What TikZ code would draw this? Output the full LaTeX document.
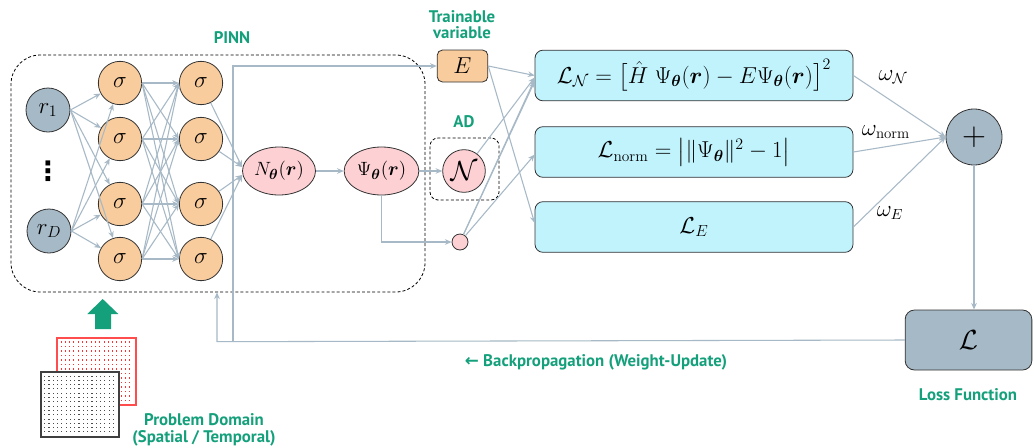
\documentclass[tikz,border=0pt]{standalone}
\usepackage{amsmath}
\usepackage{bm}
\usepackage{fontspec}
\usetikzlibrary{shapes.geometric,arrows.meta,calc}
\newfontfamily\labelfont{PT Sans}
\newfontfamily\arrowfont{DejaVu Sans}

\definecolor{linec}{HTML}{A7B9C6}
\definecolor{slate}{HTML}{A6B9C7}
\definecolor{peach}{HTML}{F9CC9D}
\definecolor{rose}{HTML}{FDD0D4}
\definecolor{aqua}{HTML}{C1F3FD}
\definecolor{teal}{HTML}{15A07C}
\definecolor{edge}{HTML}{333333}

\tikzset{
  conn/.style={draw=linec, line width=0.8pt, -{Stealth[length=5pt,width=4.2pt]}},
  innode/.style={circle, draw=edge, line width=0.6pt, fill=slate, minimum size=33pt, inner sep=0pt, font=\fontsize{17}{17}\selectfont},
  signode/.style={circle, draw=edge, line width=0.6pt, fill=peach, minimum size=32.5pt, inner sep=0pt, font=\fontsize{18}{18}\selectfont},
  netnode/.style={ellipse, draw=edge, line width=0.6pt, fill=rose, inner sep=0pt, font=\fontsize{15}{15}\selectfont},
  lossbox/.style={rectangle, rounded corners=6pt, draw=edge, line width=0.6pt, fill=aqua, minimum width=238.5pt, minimum height=38pt, font=\fontsize{16.5}{18}\selectfont},
  greenlabel/.style={text=teal, font=\labelfont\bfseries\fontsize{12.6}{15}\selectfont, align=center},
  wlabel/.style={font=\fontsize{16}{16}\selectfont}
}

\begin{document}
\begin{tikzpicture}[x=0.75pt, y=-0.75pt]
\useasboundingbox[fill=white] (0,0) rectangle (1034,447);

% PINN frame
\node[draw=black, dashed, dash pattern=on 2.2pt off 1.6pt, line width=0.6pt, rounded corners=22pt,
      minimum width=310.5pt, minimum height=177.75pt] (pinn) at (218,173.5) {};
\node[greenlabel] (pinnlab) at (232,38) {PINN};

% input layer
\node[innode] (r1) at (48,110) {$r_1$};
\node[innode] (rD) at (49,231) {$r_D$};
\node[font=\arrowfont\bfseries\fontsize{20}{20}\selectfont, inner sep=0pt] (vd) at (48,171) {⋮};

% hidden layers
\foreach \i/\y in {1/83,2/139,3/204,4/259}{
  \node[signode] (a\i) at (120,\y) {$\sigma$};
  \node[signode] (b\i) at (201,\y) {$\sigma$};
}

% network output and wave function
\node[netnode, minimum width=54.75pt, minimum height=36pt] (N) at (279,171) {$N_{\bm{\theta}}(\bm{r})$};
\node[netnode, minimum width=56pt, minimum height=36pt] (psi) at (381.5,171) {$\Psi_{\bm{\theta}}(\bm{r})$};

% automatic differentiation
\node[draw=black, dashed, dash pattern=on 2.2pt off 1.6pt, line width=0.6pt, rounded corners=6pt,
      minimum width=51.75pt, minimum height=46.5pt] (ad) at (464.5,169) {};
\node[greenlabel] (adlab) at (464,122) {AD};
\node[circle, draw=edge, line width=0.6pt, fill=rose, minimum size=32pt, inner sep=0pt,
      font=\fontsize{21}{21}\selectfont] (calN) at (464,171) {$\mathcal{N}$};
\node[circle, draw=edge, line width=0.6pt, fill=rose, minimum size=12pt, inner sep=0pt] (dot) at (460,242) {};

% trainable energy
\node[rectangle, rounded corners=4pt, draw=edge, line width=0.6pt, fill=peach, minimum width=38pt,
      minimum height=24pt, font=\fontsize{16}{16}\selectfont] (E) at (462.5,66) {$E$};
\node[greenlabel] (trlab) at (462,25) {Trainable\\[-3pt]variable};

% loss terms
\node[lossbox] (L1) at (694,75.5) {$\mathcal{L}_{\mathcal{N}}=\bigl[\hat{H}\;\Psi_{\bm{\theta}}(\bm{r})-E\Psi_{\bm{\theta}}(\bm{r})\bigr]^2$};
\node[lossbox] (L2) at (694,152) {$\mathcal{L}_{\mathrm{norm}}=\bigl|\|\Psi_{\bm{\theta}}\|^2-1\bigr|$};
\node[lossbox] (L3) at (694,227) {$\mathcal{L}_{E}$};

% weighted sum and total loss
\node[circle, draw=edge, line width=0.6pt, fill=slate, minimum size=42pt, inner sep=0pt,
      font=\fontsize{26}{26}\selectfont] (plus) at (974,137) {$+$};
\node[rectangle, rounded corners=7pt, draw=edge, line width=0.6pt, fill=slate, minimum width=95pt,
      minimum height=45pt, font=\fontsize{21}{21}\selectfont] (Lbox) at (968.5,340) {$\mathcal{L}$};
\node[greenlabel] (lflab) at (968,395) {Loss Function};

\node[wlabel] (w1) at (893,77) {$\omega_{\mathcal{N}}$};
\node[wlabel] (w2) at (886,132) {$\omega_{\mathrm{norm}}$};
\node[wlabel] (w3) at (890,213) {$\omega_{E}$};

% connections: input -> first hidden layer
\foreach \i in {1,...,4}{
  \draw[conn] (r1.east) -- (a\i);
  \draw[conn] (rD.east) -- (a\i);
}
% first -> second hidden layer
\foreach \i in {1,...,4}{
  \foreach \j in {1,...,4}{
    \draw[conn] (a\i.east) -- (b\j.west);
  }
}
% second hidden layer -> network output
\draw[conn] (b1) -- ([yshift=3pt]N.west);
\draw[conn] (b2) -- ([yshift=3pt]N.west);
\draw[conn] (b3) -- ([yshift=-3pt]N.west);
\draw[conn] (b4) -- ([yshift=-3pt]N.west);

\draw[conn] (N.east) -- (psi.west);
\draw[conn] (psi.east) -- (calN.west);
\draw[conn] (psi.south) |- (dot.west);

% inputs of the loss terms
\draw[conn] (E.east) -- (L1.west);
\draw[conn] (E.east) -- ([yshift=3pt]L3.west);
\draw[conn] (calN) -- ([yshift=-1.5pt]L1.west);
\draw[conn] (dot) -- ([yshift=-3pt]L1.west);
\draw[conn] (dot) -- ([yshift=-4.5pt]L1.west);
\draw[conn] (dot) -- ([yshift=-2pt]L2.west);

% weighted sum
\draw[conn] (L1.east) -- (plus.west);
\draw[conn] (L2.east) -- (plus.west);
\draw[conn] (L3.east) -- (plus.west);
\draw[conn] (plus.south) -- (plus.south |- Lbox.north);

% backpropagation
\coordinate (bp) at (217,341.7);
\coordinate (eu) at (233,341.7);
\draw[conn] (Lbox.west) -- (bp) -- (bp |- pinn.south);
\draw[conn] (eu) |- (E.west);
\node[greenlabel] (bplab) at (596,362) {{\arrowfont\bfseries ←} Backpropagation (Weight-Update)};

% problem domain
\fill[teal] (95,329) -- (111,329) -- (111,314) -- (118.3,314) -- (102.7,299) -- (87.3,314) -- (95,314) -- cycle;
\draw[red!70, fill=white, line width=0.8pt] (57,338) rectangle (136,405);
\foreach \x in {60.5,64.8,...,132}{
  \foreach \y in {341,345.5,...,401}{
    \fill[red!80] (\x,\y) rectangle ++(0.6,1.6);
  }
}
\draw[black!75, fill=white, line width=1.1pt] (41,372) rectangle (119,437);
\foreach \x in {44,48.3,...,116}{
  \foreach \y in {375.5,379.8,...,434}{
    \fill[black!70] (\x,\y) rectangle ++(1.2,0.6);
  }
}
\node[greenlabel] (pdlab) at (204,430) {Problem Domain\\[-2pt](Spatial / Temporal)};
\end{tikzpicture}
\end{document}
